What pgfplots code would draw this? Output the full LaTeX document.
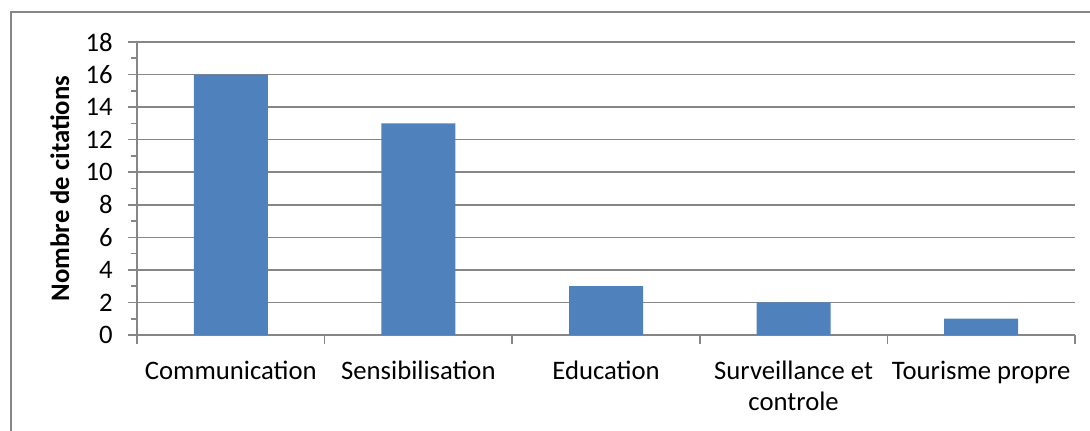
\documentclass[border=0pt]{standalone}
\usepackage{pgfplots}
\pgfplotsset{compat=1.18}
\usepackage{fontspec}
\setmainfont{Carlito}
\definecolor{barblue}{RGB}{79,129,189}
\definecolor{gridgray}{RGB}{134,134,134}
\newcommand{\chartfont}{\fontsize{13.4}{16}\selectfont}
\begin{document}
\chartfont
\begin{tikzpicture}[x=1bp,y=1bp]
\useasboundingbox (0,0) rectangle (545,215);
% chart frame (right and bottom edges fall outside the page)
\draw[gridgray, line width=0.8bp] (5.5,-2) -- (5.5,209) -- (547,209);
\begin{axis}[
  at={(68.5bp,47.5bp)}, anchor=south west,
  scale only axis, width=469bp, height=146.5bp,
  xmin=0, xmax=5, ymin=0, ymax=18,
  ytick={0,2,...,18}, minor ytick={1,3,...,17},
  xtick={0,1,...,5}, xticklabels={},
  extra x ticks={0.5,1.5,2.5,3.5,4.5},
  extra x tick labels={Communication,Sensibilisation,Education,
    {\begin{tabular}[t]{@{}c@{}}Surveillance et\\controle\end{tabular}},Tourisme propre},
  extra x tick style={major tick length=0pt, grid=none,
    xticklabel style={anchor=base, yshift=-22bp}},
  axis x line*=bottom, axis y line*=left,
  axis line style={gridgray, line width=0.8bp},
  ymajorgrids, grid style={gridgray, line width=0.8bp},
  tick style={gridgray, line width=0.8bp},
  tick align=outside, major tick length=4.5bp,
  minor tick length=3bp,
  yticklabel style={xshift=-3bp},
  /pgf/number format/assume math mode=true,
  ticklabel style={font=\chartfont},
  ylabel={\bfseries Nombre de citations},
  ylabel style={font=\chartfont, yshift=-1bp},
  ]
\addplot[ybar, bar width=37bp, fill=barblue, draw=none] coordinates {
  (0.5,16) (1.5,13) (2.5,3) (3.5,2) (4.5,1)
};
\end{axis}
\end{tikzpicture}
\end{document}
